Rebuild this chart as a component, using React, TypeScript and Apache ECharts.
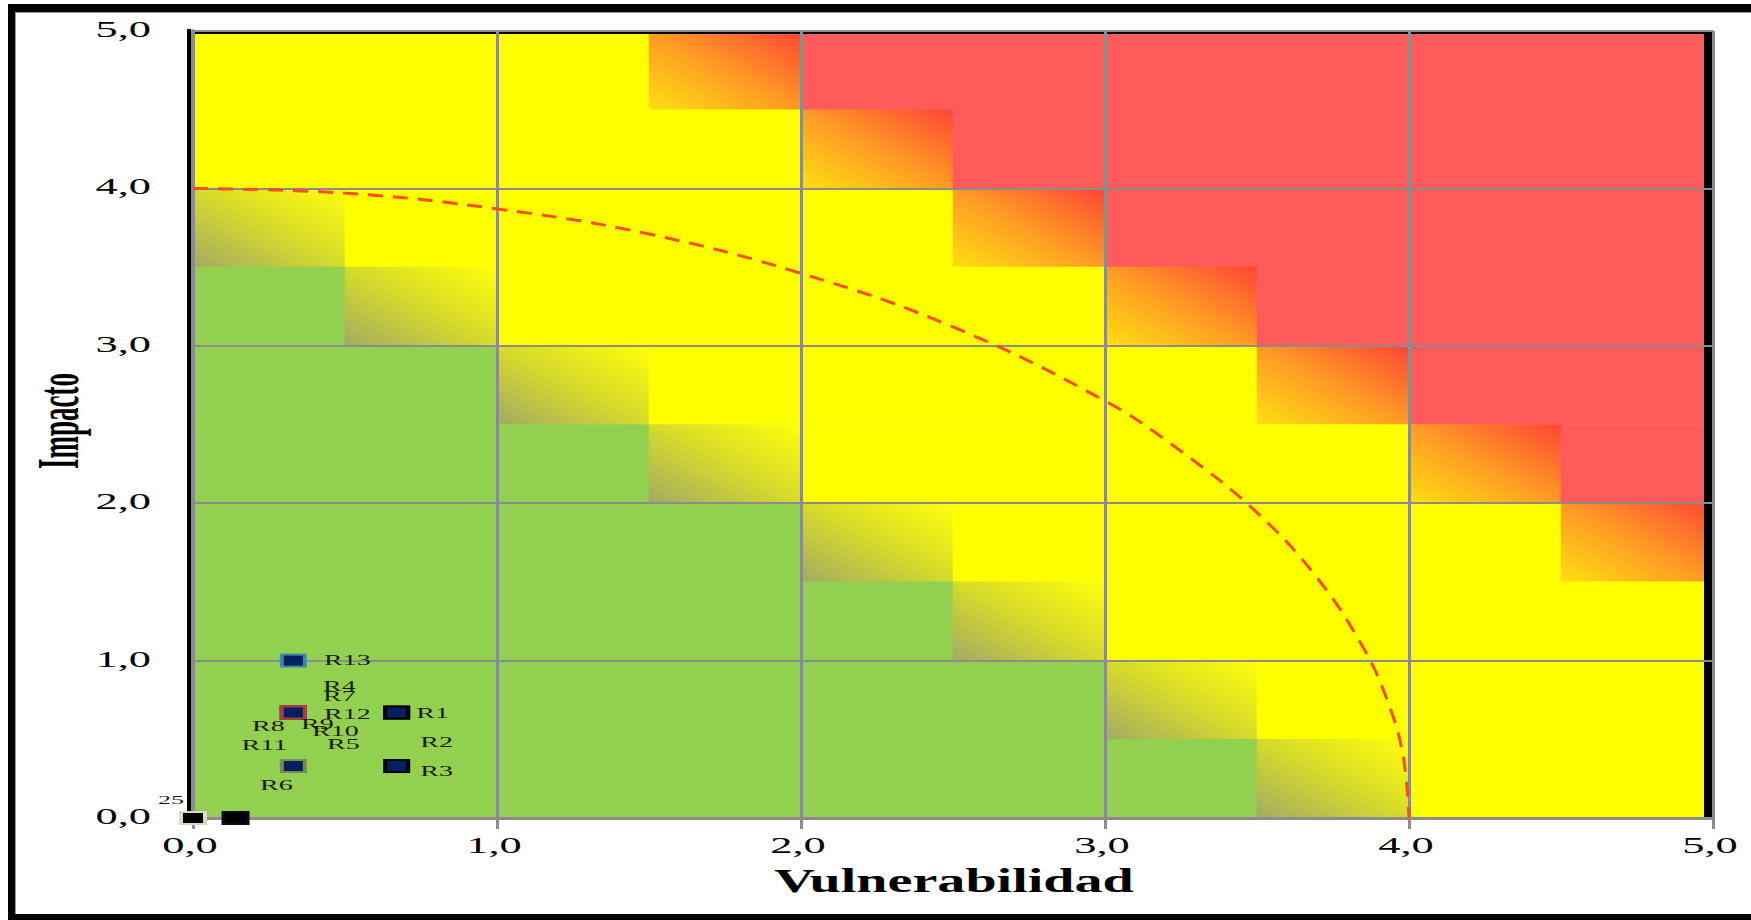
import React, { useEffect, useRef } from 'react';
import * as echarts from 'echarts';

// ---------- DATA ----------
// Zone codes: 0 green, 1 green→yellow blend, 2 yellow, 3 yellow→red blend, 4 red.
// Rows listed from the top band (Impacto 4.5–5.0) down to the bottom band (0–0.5); each cell is 0.5 × 0.5.
const zoneRows: number[][] = [
  [2, 2, 2, 3, 4, 4, 4, 4, 4, 4],
  [2, 2, 2, 2, 3, 4, 4, 4, 4, 4],
  [1, 2, 2, 2, 2, 3, 4, 4, 4, 4],
  [0, 1, 2, 2, 2, 2, 3, 4, 4, 4],
  [0, 0, 1, 2, 2, 2, 2, 3, 4, 4],
  [0, 0, 0, 1, 2, 2, 2, 2, 3, 4],
  [0, 0, 0, 0, 1, 2, 2, 2, 2, 3],
  [0, 0, 0, 0, 0, 1, 2, 2, 2, 2],
  [0, 0, 0, 0, 0, 0, 1, 2, 2, 2],
  [0, 0, 0, 0, 0, 0, 0, 1, 2, 2],
];
const cellSize = 0.5;

// Dashed threshold curve
const curveX = [0, 0.5, 1.0, 1.5, 2.0, 2.5, 3.0, 3.25, 3.5, 3.7, 3.85, 3.93, 3.98, 4.0];
const curveY = [4.0, 3.97, 3.87, 3.71, 3.46, 3.12, 2.65, 2.33, 1.94, 1.52, 1.08, 0.74, 0.4, 0.0];

// Risks
const riskNames = ['R1', 'R2', 'R3', 'R4', 'R5', 'R6', 'R7', 'R8', 'R9', 'R10', 'R11', 'R12', 'R13'];
const riskVulnerabilidad = [0.67, 0.67, 0.67, 0.33, 0.33, 0.33, 0.33, 0.33, 0.33, 0.33, 0.33, 0.33, 0.33];
const riskImpacto = [0.67, 0.67, 0.33, 0.67, 0.67, 0.33, 0.67, 0.67, 0.67, 0.67, 0.67, 0.67, 1.0];

// Corner points near the origin
const baseNames = ['25', ''];
const baseX = [0, 0.14];
const baseY = [0, 0];

// Axis ticks
const xTickValues = [0, 1, 2, 3, 4, 5];
const xTickLabels = ['0,0', '1,0', '2,0', '3,0', '4,0', '5,0'];
const yTickValues = [0, 1, 2, 3, 4, 5];
const yTickLabels = ['0,0', '1,0', '2,0', '3,0', '4,0', '5,0'];

// ---------- STYLES ----------
const GREEN = '#92D050';
const YELLOW = '#FFFF00';
const RED = '#FF5B5B';
const GRID_GRAY = '#8C8C8C';
const SERIF = '"Liberation Serif", "Times New Roman", serif';

const markerStyle: Record<string, { border: string; dx: number; dy: number }> = {
  R1: { border: '#000000', dx: 36, dy: 1 },
  R2: { border: '#000000', dx: 40, dy: 30 },
  R3: { border: '#000000', dx: 40, dy: 5 },
  R4: { border: '#A04040', dx: 46, dy: -26 },
  R5: { border: '#A04040', dx: 50, dy: 32 },
  R6: { border: '#7C8B48', dx: -17, dy: 19 },
  R7: { border: '#A04040', dx: 46, dy: -16 },
  R8: { border: '#A04040', dx: -25, dy: 14 },
  R9: { border: '#A04040', dx: 24, dy: 12 },
  R10: { border: '#A04040', dx: 42, dy: 19 },
  R11: { border: '#A04040', dx: -29, dy: 33 },
  R12: { border: '#A04040', dx: 54, dy: 2 },
  R13: { border: '#3A8BAA', dx: 54, dy: 0 },
};
const baseStyle = [
  { border: '#D6DCC4', fill: '#000000', dx: -22, dy: -18 },
  { border: '#0A0A14', fill: '#000000', dx: 0, dy: 0 },
];

function zoneFill(code: number): any {
  if (code === 0) return GREEN;
  if (code === 2) return YELLOW;
  if (code === 4) return RED;
  if (code === 1)
    return new echarts.graphic.LinearGradient(0, 1, 1, 0, [
      { offset: 0, color: '#A2AA62' },
      { offset: 0.5, color: '#D6DA2A' },
      { offset: 1, color: '#FFFF08' },
    ]);
  return new echarts.graphic.LinearGradient(0, 1, 1, 0, [
    { offset: 0, color: '#FFE010' },
    { offset: 0.5, color: '#FF9A24' },
    { offset: 1, color: '#FF4436' },
  ]);
}

export default function App() {
  const ref = useRef<HTMLDivElement>(null);

  useEffect(() => {
    document.body.style.margin = '0';
    const chart = echarts.init(ref.current as HTMLDivElement, null, { renderer: 'svg' });

    const zoneData: number[][] = [];
    zoneRows.forEach((row, r) => {
      row.forEach((code, c) => {
        zoneData.push([c * cellSize, (zoneRows.length - 1 - r) * cellSize, code]);
      });
    });

    const GL = 193, GT = 31, GW = 1520, GH = 787;

    const option: any = {
      animation: false,
      backgroundColor: '#ffffff',
      grid: { left: GL, top: GT, width: GW, height: GH, containLabel: false },
      xAxis: {
        type: 'value', min: 0, max: 5, interval: 1, z: 3,
        axisLine: { show: true, lineStyle: { color: GRID_GRAY, width: 3 } },
        axisTick: { show: true, length: 11, lineStyle: { color: GRID_GRAY, width: 3 } },
        axisLabel: { show: false },
        splitLine: { show: true, lineStyle: { color: GRID_GRAY, width: 3 } },
      },
      yAxis: {
        type: 'value', min: 0, max: 5, interval: 1, z: 3,
        axisLine: { show: true, lineStyle: { color: GRID_GRAY, width: 4 } },
        axisTick: { show: false },
        axisLabel: { show: false },
        splitLine: { show: true, lineStyle: { color: GRID_GRAY, width: 2 } },
      },
      graphic: [
        // outer frame
        { type: 'rect', z: 0, shape: { x: 8, y: 4, width: 1743, height: 8 }, style: { fill: '#000' } },
        { type: 'rect', z: 0, shape: { x: 8, y: 4, width: 7, height: 916 }, style: { fill: '#000' } },
        { type: 'rect', z: 0, shape: { x: 8, y: 914, width: 1743, height: 6 }, style: { fill: '#000' } },
        { type: 'line', z: 0, shape: { x1: 15.5, y1: 12, x2: 15.5, y2: 914 }, style: { stroke: '#9A9A9A', lineWidth: 1 } },
        { type: 'line', z: 0, shape: { x1: 15, y1: 12.5, x2: 1751, y2: 12.5 }, style: { stroke: '#9A9A9A', lineWidth: 1 } },
        // plot-area shadow strips
        { type: 'rect', z: 2.5, shape: { x: GL - 6, y: GT - 2, width: 4, height: GH + 2 }, style: { fill: '#000' } },
        { type: 'rect', z: 2.5, shape: { x: GL, y: GT, width: GW, height: 3 }, style: { fill: '#000' } },
        { type: 'rect', z: 2.5, shape: { x: GL + GW - 9, y: GT, width: 8, height: GH }, style: { fill: '#000' } },
        // axis titles
        {
          type: 'text', z: 10, x: 954, y: 881, scaleX: 1.65,
          style: { text: 'Vulnerabilidad', fontFamily: SERIF, fontWeight: 'bold', fontSize: 34, fill: '#000', align: 'center', verticalAlign: 'middle' },
        },
        {
          type: 'text', z: 10, x: 58, y: 421, rotation: Math.PI / 2, scaleY: 2.2,
          style: { text: 'Impacto', fontFamily: SERIF, fontWeight: 'bold', fontSize: 27, fill: '#000', align: 'center', verticalAlign: 'middle' },
        },
      ],
      series: [
        {
          name: 'Zonas', type: 'custom', coordinateSystem: 'cartesian2d', z: 1, silent: true,
          data: zoneData,
          renderItem: (params: any, api: any) => {
            const x0 = api.value(0), y0 = api.value(1), code = api.value(2);
            const a = api.coord([x0, y0]);
            const b = api.coord([x0 + cellSize, y0 + cellSize]);
            return {
              type: 'rect',
              shape: { x: a[0] - 0.3, y: b[1] - 0.3, width: b[0] - a[0] + 0.6, height: a[1] - b[1] + 0.6 },
              style: { fill: zoneFill(code) },
            };
          },
        },
        {
          name: 'Umbral', type: 'line', z: 5, silent: true,
          data: curveX.map((x, i) => [x, curveY[i]]),
          smooth: 0.4, symbol: 'none', showSymbol: false,
          lineStyle: { color: '#FF4C18', width: 3, type: [15, 10] },
        },
        {
          name: 'Base', type: 'custom', coordinateSystem: 'cartesian2d', z: 6, silent: true,
          data: baseX.map((x, i) => [x, baseY[i]]),
          renderItem: (params: any, api: any) => {
            const p = api.coord([api.value(0), api.value(1)]);
            const s = baseStyle[params.dataIndex];
            return {
              type: 'group',
              children: [
                { type: 'rect', shape: { x: p[0] - 14, y: p[1] - 7, width: 28, height: 14 }, style: { fill: s.border } },
                { type: 'rect', shape: { x: p[0] - 10, y: p[1] - 5, width: 20, height: 10 }, style: { fill: s.fill } },
                {
                  type: 'text', x: p[0] + s.dx, y: p[1] + s.dy, scaleX: 2,
                  style: { text: baseNames[params.dataIndex], fontFamily: SERIF, fontSize: 13, fill: '#1a1a1a', align: 'center', verticalAlign: 'middle' },
                },
              ],
            };
          },
        },
        {
          name: 'Riesgos', type: 'custom', coordinateSystem: 'cartesian2d', z: 6, silent: true,
          data: riskVulnerabilidad.map((x, i) => [x, riskImpacto[i]]),
          renderItem: (params: any, api: any) => {
            const p = api.coord([api.value(0), api.value(1)]);
            const s = markerStyle[riskNames[params.dataIndex]];
            return {
              type: 'group',
              children: [
                { type: 'rect', shape: { x: p[0] - 13.5, y: p[1] - 7, width: 27, height: 14 }, style: { fill: s.border } },
                { type: 'rect', shape: { x: p[0] - 9.5, y: p[1] - 5, width: 19, height: 10 }, style: { fill: '#002060' } },
              ],
            };
          },
        },
        {
          name: 'Etiquetas', type: 'custom', coordinateSystem: 'cartesian2d', z: 7, silent: true,
          data: riskVulnerabilidad.map((x, i) => [x, riskImpacto[i]]),
          renderItem: (params: any, api: any) => {
            const p = api.coord([api.value(0), api.value(1)]);
            const name = riskNames[params.dataIndex];
            const s = markerStyle[name];
            return {
              type: 'text', x: p[0] + s.dx, y: p[1] + s.dy, scaleX: 2,
              style: { text: name, fontFamily: SERIF, fontSize: 14, fill: '#1a1a1a', align: 'center', verticalAlign: 'middle' },
            };
          },
        },
        {
          name: 'EjeX', type: 'custom', coordinateSystem: 'cartesian2d', z: 8, silent: true,
          data: xTickValues.map((v) => [v, 0]),
          renderItem: (params: any, api: any) => {
            const p = api.coord([api.value(0), api.value(1)]);
            return {
              type: 'text', x: p[0] - 3, y: p[1] + 27, scaleX: 1.85,
              style: { text: xTickLabels[params.dataIndex], fontFamily: SERIF, fontSize: 24, fill: '#000', align: 'center', verticalAlign: 'middle' },
            };
          },
        },
        {
          name: 'EjeY', type: 'custom', coordinateSystem: 'cartesian2d', z: 8, silent: true,
          data: yTickValues.map((v) => [0, v]),
          renderItem: (params: any, api: any) => {
            const p = api.coord([api.value(0), api.value(1)]);
            return {
              type: 'text', x: p[0] - 42, y: p[1] - 2, scaleX: 1.85,
              style: { text: yTickLabels[params.dataIndex], fontFamily: SERIF, fontSize: 24, fill: '#000', align: 'right', verticalAlign: 'middle' },
            };
          },
        },
      ],
    };

    chart.setOption(option);
    return () => chart.dispose();
  }, []);

  return (
    <div
      ref={ref}
      style={{ position: 'absolute', left: 0, top: 0, width: 1751, height: 920, background: '#ffffff' }}
    />
  );
}
